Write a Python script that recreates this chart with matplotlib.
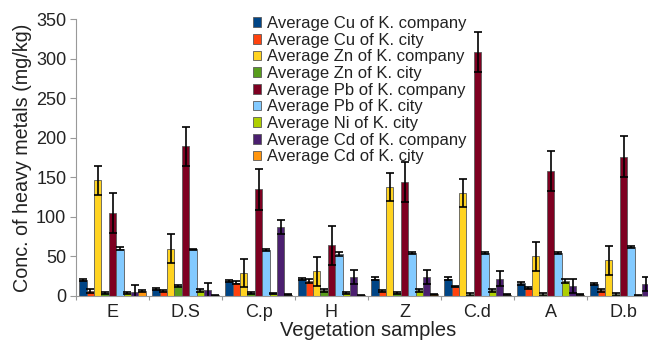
import matplotlib
matplotlib.use("Agg")
import matplotlib.pyplot as plt
import numpy as np

plt.rcParams['font.family'] = ['Liberation Sans', 'DejaVu Sans']

samples = ["E", "D.S", "C.p", "H", "Z", "C.d", "A", "D.b"]

series_names = [
    "Average Cu of K. company",
    "Average Cu of K. city",
    "Average Zn of K. company",
    "Average Zn of K. city",
    "Average Pb of K. company",
    "Average Pb of K. city",
    "Average Ni of K. city",
    "Average Cd of K. company",
    "Average Cd of K. city",
]
colors = ["#004586", "#ff420e", "#ffd320", "#579d1c", "#7e0021",
          "#83caff", "#aecf00", "#4b1f6f", "#ff950e"]

cu_company = [20, 9, 19, 21.5, 22, 22, 16, 15]
cu_city = [6, 6.5, 17, 19, 6.5, 12, 10, 7]
zn_company = [146, 60, 29, 31, 138, 130, 50, 45]
zn_city = [4, 13, 3.5, 7, 4, 2, 2, 2]
pb_company = [105, 189, 135, 64, 144, 308, 158, 176]
pb_city = [60, 59, 58, 53, 54, 54, 54, 62]
ni_city = [4, 7, 3, 4, 7, 7, 19, 0.5]
cd_company = [5, 8, 87, 24, 24, 22, 13, 15]
cd_city = [6, 1, 1.5, 1, 2, 1.5, 1.5, 1.5]

cu_company_err = [1.5, 1.5, 1.5, 1.5, 1.5, 1.5, 1.5, 1.5]
cu_city_err = [2.5, 1.5, 2, 2, 1.5, 1, 1.5, 1.5]
zn_company_err = [18, 18, 18, 18, 18, 17.5, 18, 18]
zn_city_err = [1.5, 1.5, 1, 1.5, 1.5, 1.5, 1.5, 1.5]
pb_company_err = [25, 25, 26, 25, 25, 25, 25, 26]
pb_city_err = [1.5, 1, 1, 2, 1, 1, 1.5, 1]
ni_city_err = [1, 1.5, 1, 1.5, 1.5, 1.5, 2, 0.5]
cd_company_err = [9, 9, 9, 9, 9, 9, 9, 9]
cd_city_err = [1, 0.5, 0.5, 0.5, 0.5, 0.5, 0.5, 0.5]

values = [cu_company, cu_city, zn_company, zn_city, pb_company, pb_city,
          ni_city, cd_company, cd_city]
errors = [cu_company_err, cu_city_err, zn_company_err, zn_city_err,
          pb_company_err, pb_city_err, ni_city_err, cd_company_err, cd_city_err]

fig = plt.figure(figsize=(6.48, 3.43), dpi=100)
ax = fig.add_axes([76/648, 1-296/343, 584/648, 277/343])

x = np.arange(len(samples))
n = len(values)
w = 0.101
for j in range(n):
    ax.bar(x + (j - (n-1)/2) * w, values[j], width=w, color=colors[j],
           edgecolor="#5a5a5a", linewidth=0.6, label=series_names[j],
           yerr=errors[j], error_kw=dict(ecolor="black", elinewidth=1.2,
                                         capsize=3, capthick=1.2), zorder=2)

ax.set_xlim(-0.5, len(samples) - 0.5)
ax.set_ylim(0, 350)
ax.set_yticks(np.arange(0, 351, 50))
ax.set_xticks(x)
ax.set_xticklabels(samples)
ax.set_xticks(np.arange(-0.5, len(samples), 1), minor=True)
ax.tick_params(axis='x', which='major', length=0, labelsize=13, pad=6,
               labelcolor="#222222")
ax.tick_params(axis='x', which='minor', length=3, color="#999999", width=0.8)
ax.tick_params(axis='y', length=4, color="#999999", width=0.8, labelsize=13,
               labelcolor="#222222", pad=3)

for s in ["top", "right"]:
    ax.spines[s].set_visible(False)
for s in ["left", "bottom"]:
    ax.spines[s].set_color("#999999")
    ax.spines[s].set_linewidth(0.8)

ax.set_xlabel("Vegetation samples", fontsize=14.5, color="#222222", labelpad=0)
ax.set_ylabel("Conc. of heavy metals (mg/kg)", fontsize=14.2, color="#222222",
              labelpad=3)

leg = fig.legend(loc="upper left", bbox_to_anchor=(253/648, 1-16/343),
                 frameon=False, fontsize=12, labelspacing=0.1,
                 handlelength=0.5, handleheight=0.5, handletextpad=0.35,
                 borderaxespad=0, borderpad=0)
for t in leg.get_texts():
    t.set_color("#222222")

fig.savefig("out.png", dpi=100)
